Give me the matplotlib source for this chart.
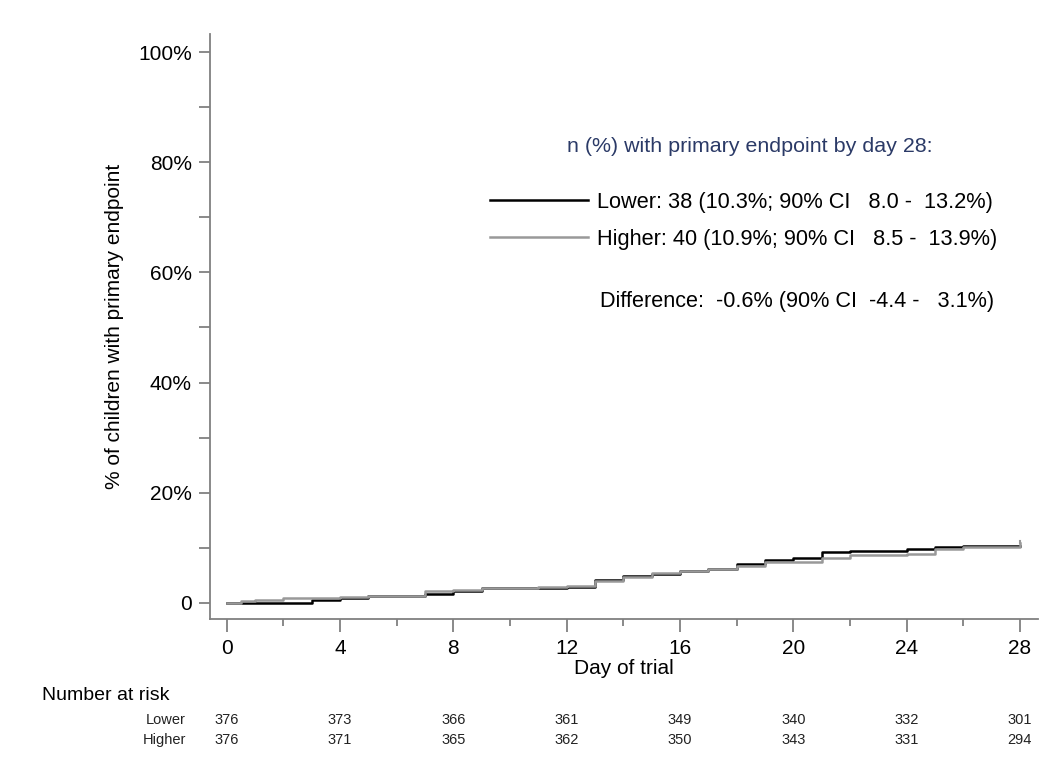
import matplotlib
matplotlib.use('Agg')
import matplotlib.pyplot as plt
from matplotlib.lines import Line2D
from matplotlib.ticker import FixedLocator, MultipleLocator
import matplotlib.transforms as mtransforms

plt.rcParams['font.family'] = ['Liberation Sans', 'DejaVu Sans']

# step times (days) and cumulative % with primary endpoint
days = [0, 0.5, 1, 2, 3, 4, 5, 6, 7, 8, 9, 10, 11, 12, 13, 14, 15, 16, 17,
        18, 19, 20, 21, 22, 23, 24, 25, 26, 27, 28]
lower = [0, 0, 0, 0, 0.5, 0.8, 1.3, 1.3, 1.6, 2.1, 2.7, 2.7, 2.7, 2.9, 4.2,
         4.9, 5.3, 5.8, 6.1, 7.0, 7.8, 8.1, 9.2, 9.4, 9.4, 9.8, 10.1, 10.3,
         10.3, 10.3]
higher = [0, 0.3, 0.5, 0.8, 0.8, 1.1, 1.3, 1.3, 2.1, 2.4, 2.7, 2.7, 2.8, 3.0,
          4.0, 4.6, 5.4, 5.8, 6.1, 6.7, 7.4, 7.4, 8.1, 8.6, 8.6, 8.9, 9.8,
          10.2, 10.2, 10.9]

# number at risk
risk_days = [0, 4, 8, 12, 16, 20, 24, 28]
risk_lower = [376, 373, 366, 361, 349, 340, 332, 301]
risk_higher = [376, 371, 365, 362, 350, 343, 331, 294]

labels = ['Lower: 38 (10.3%; 90% CI   8.0 -  13.2%)',
          'Higher: 40 (10.9%; 90% CI   8.5 -  13.9%)']
diff_text = 'Difference:  -0.6% (90% CI  -4.4 -   3.1%)'
header_text = 'n (%) with primary endpoint by day 28:'

black = '#000000'
grey = '#999999'
spine_col = '#808080'

fig = plt.figure(figsize=(10.59, 7.71), dpi=100)
ax = fig.add_axes([0.1983, 0.1968, 0.9802 - 0.1983, 0.9559 - 0.1968])

ax.step(days, lower, where='post', color=black, lw=1.8, zorder=3)
ax.step(days, higher, where='post', color=grey, lw=1.8, zorder=4)
# little closing tick of the higher curve at day 28
ax.plot([days[-1], days[-1]], [higher[-1], higher[-1] + 0.4], color=grey, lw=1.5, zorder=4)

ax.set_xlim(-0.59, 28.64)
ax.set_ylim(-3, 103.3)

for s in ['top', 'right']:
    ax.spines[s].set_visible(False)
for s in ['left', 'bottom']:
    ax.spines[s].set_color(spine_col)
    ax.spines[s].set_linewidth(1.3)

ax.yaxis.set_major_locator(FixedLocator([0, 20, 40, 60, 80, 100]))
ax.set_yticklabels(['0', '20%', '40%', '60%', '80%', '100%'])
ax.yaxis.set_minor_locator(FixedLocator([10, 30, 50, 70, 90]))
ax.xaxis.set_major_locator(MultipleLocator(4))
ax.xaxis.set_minor_locator(FixedLocator([2, 6, 10, 14, 18, 22, 26]))

ax.tick_params(axis='both', which='both', direction='out', colors=spine_col,
               labelcolor='black', width=1.3, labelsize=15)
ax.tick_params(axis='y', which='both', length=8, pad=5)
ax.tick_params(axis='x', which='major', length=9, pad=5)
ax.tick_params(axis='x', which='minor', length=5)

ax.set_xlabel('Day of trial', fontsize=15, labelpad=1)
ax.set_ylabel('% of children with primary endpoint', fontsize=15, labelpad=10)

# legend block
fig.text(750 / 1059, 1 - 146 / 771, header_text, fontsize=15.4, color='#2b3a67',
         ha='center', va='center')
handles = [Line2D([], [], color=black, lw=1.8), Line2D([], [], color=grey, lw=1.8)]
ax.legend(handles, labels, loc='upper left', frameon=False, fontsize=15.7,
          bbox_to_anchor=(490 / 1059, 1 - 192 / 771), bbox_transform=fig.transFigure,
          handlelength=4.5, handletextpad=0.42, labelspacing=0.72, borderaxespad=0,
          borderpad=0)
fig.text(600 / 1059, 1 - 302 / 771, diff_text, fontsize=15.6, ha='left', va='center')

# number at risk table
fig.text(42 / 1059, 1 - 695 / 771, 'Number at risk', fontsize=14, ha='left', va='center')
trans = mtransforms.blended_transform_factory(ax.transData, fig.transFigure)
fig.text(186 / 1059, 1 - 720 / 771, 'Lower', fontsize=10.5, ha='right', va='center', color='#222222')
fig.text(186 / 1059, 1 - 740 / 771, 'Higher', fontsize=10.5, ha='right', va='center', color='#222222')
for d, a, b in zip(risk_days, risk_lower, risk_higher):
    ax.text(d, 1 - 720 / 771, str(a), transform=trans, fontsize=10.5, ha='center',
            va='center', color='#222222', clip_on=False)
    ax.text(d, 1 - 740 / 771, str(b), transform=trans, fontsize=10.5, ha='center',
            va='center', color='#222222', clip_on=False)

fig.savefig('out.png', dpi=100)
